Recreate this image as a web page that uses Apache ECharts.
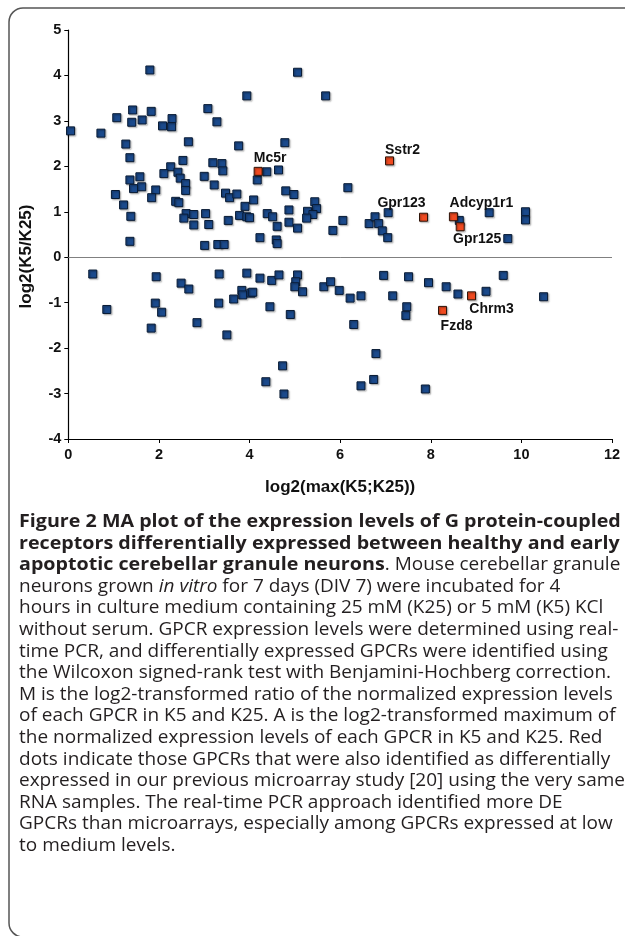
<!DOCTYPE html>
<html>
<head>
<meta charset="utf-8">
<script src="https://cdn.jsdelivr.net/npm/echarts@6/dist/echarts.min.js"></script>
<style>
html,body{margin:0;padding:0;background:#fff;}
#chart{width:625px;height:936px;}
</style>
</head>
<body>
<div id="chart"></div>
<script>
// A values (log2 max) and M values (log2 ratio) for non-highlighted GPCRs
const blueA = [1.80,0.05,0.72,1.07,1.42,1.40,1.63,1.83,2.08,2.29,2.28,2.65,1.27,1.36,2.26,2.53,2.11,2.42,2.47,1.58,1.36,1.44,1.62,1.93,2.59,2.59,1.04,1.22,1.84,2.37,2.44,1.38,2.60,2.55,2.77,2.77,3.03,3.10,1.36,3.01,3.30,3.44,3.00,3.22,3.19,3.39,3.41,3.08,3.28,
  5.06,3.94,5.68,3.76,4.78,4.38,4.64,4.17,6.17,3.47,3.56,3.72,4.09,4.80,4.98,3.90,5.44,5.48,5.28,5.40,5.26,3.53,3.78,3.94,4.00,4.39,4.51,4.61,4.87,4.87,5.06,4.23,4.59,4.61,6.06,5.84,6.64,6.77,6.85,6.93,7.05,7.06,8.63,9.29,10.09,10.09,9.70,
  0.54,0.85,1.94,1.92,2.06,1.83,2.49,2.66,2.84,3.33,3.94,4.23,4.49,4.65,5.06,5.02,5.00,5.17,3.83,3.85,4.03,4.07,3.65,3.32,4.45,4.90,3.50,5.64,5.79,5.98,6.22,6.46,6.30,6.96,7.16,7.51,7.47,7.45,6.79,6.74,6.46,4.73,4.36,4.76,7.95,8.34,8.60,9.22,9.60,10.49,7.88];
const blueM = [4.12,2.78,2.73,3.07,3.24,2.97,3.02,3.21,2.89,3.05,2.87,2.54,2.49,2.19,1.99,2.13,1.84,1.87,1.74,1.77,1.70,1.51,1.55,1.48,1.62,1.47,1.38,1.15,1.31,1.23,1.20,0.90,0.96,0.86,0.94,0.71,0.96,0.72,0.35,0.26,0.28,0.28,1.78,1.59,2.08,2.06,1.90,3.27,2.98,
  4.07,3.55,3.55,2.45,2.52,1.88,1.92,1.70,1.53,1.41,1.31,1.39,1.26,1.46,1.38,1.12,1.22,1.07,1.01,0.94,0.86,0.81,0.92,0.89,0.87,0.96,0.89,0.68,1.04,0.77,0.64,0.43,0.38,0.30,0.81,0.59,0.74,0.89,0.74,0.58,0.43,0.98,0.81,0.98,1.00,0.82,0.41,
  -0.37,-1.15,-0.43,-1.01,-1.21,-1.56,-0.57,-0.70,-1.44,-0.37,-0.35,-0.46,-0.51,-0.39,-0.39,-0.54,-0.65,-0.76,-0.73,-0.83,-0.79,-0.77,-0.92,-1.01,-1.09,-1.26,-1.71,-0.65,-0.54,-0.73,-0.90,-0.85,-1.48,-0.40,-0.85,-0.43,-1.09,-1.28,-2.12,-2.69,-2.83,-2.39,-2.74,-3.01,-0.56,-0.65,-0.81,-0.75,-0.40,-0.87,-2.90];

// GPCRs also found in the previous microarray study
const redNames = ['Mc5r','Sstr2','Gpr123','Adcyp1r1','Gpr125','Chrm3','Fzd8'];
const redA = [4.19,7.09,7.84,8.50,8.65,8.90,8.26];
const redM = [1.89,2.12,0.88,0.89,0.67,-0.85,-1.17];

const xTicks = [0,2,4,6,8,10,12];
const yTicks = [-4,-3,-2,-1,0,1,2,3,4,5];

const xName = 'log2(max(K5;K25))';
const yName = 'log2(K5/K25)';

// label placement (style only)
const labelOffset = {
  'Mc5r':[12,-13], 'Sstr2':[13,-11], 'Gpr123':[-22,-14], 'Adcyp1r1':[28,-14],
  'Gpr125':[17,12], 'Chrm3':[20,13], 'Fzd8':[14,16]
};

const blueData = blueA.map((a,i)=>[a, blueM[i]]);
const redData = redA.map((a,i)=>({
  name: redNames[i], value:[a, redM[i]],
  label:{show:true, position:'inside', offset: labelOffset[redNames[i]], formatter: redNames[i]}
}));

const captionLines = [
  '{b|Figure 2 MA plot of the expression levels of G protein-coupled}',
  '{b|receptors differentially expressed between healthy and early}',
  '{b|apoptotic cerebellar granule neurons}{r|. Mouse cerebellar granule}',
  '{r|neurons grown }{i|in vitro}{r| for 7 days (DIV 7) were incubated for 4}',
  '{r|hours in culture medium containing 25 mM (K25) or 5 mM (K5) KCl}',
  '{r|without serum. GPCR expression levels were determined using real-}',
  '{r|time PCR, and differentially expressed GPCRs were identified using}',
  '{r|the Wilcoxon signed-rank test with Benjamini-Hochberg correction.}',
  '{r|M is the log2-transformed ratio of the normalized expression levels}',
  '{r|of each GPCR in K5 and K25. A is the log2-transformed maximum of}',
  '{r|the normalized expression levels of each GPCR in K5 and K25. Red}',
  '{r|dots indicate those GPCRs that were also identified as differentially}',
  '{r|expressed in our previous microarray study [20] using the very same}',
  '{r|RNA samples. The real-time PCR approach identified more DE}',
  '{r|GPCRs than microarrays, especially among GPCRs expressed at low}',
  '{r|to medium levels.}'
];

const capFont = 'Open Sans';
const capSize = 17.3;
const capBoldSize = 17.9;
const capScaleX = 1.10;
const capColor = '#231f20';
const graphics = [{
  type:'rect', x:9, y:8, z:-1, silent:true,
  shape:{x:0,y:0,width:650,height:929,r:14},
  style:{fill:'none', stroke:'#555', lineWidth:1.5}
},{
  type:'text', x:26, y:256.5, rotation:Math.PI/2, silent:true,
  style:{text:yName, fontFamily:'Liberation Sans', fontWeight:'bold', fontSize:17,
    fill:'#111', align:'center', verticalAlign:'middle'}
}];
captionLines.forEach((t,i)=>{
  graphics.push({
    type:'text', x:19, y: 522 + i*21.6, scaleX:capScaleX, silent:true,
    style:{
      text:t, verticalAlign:'middle', align:'left',
      rich:{
        b:{fontFamily:capFont, fontSize:capBoldSize, fontWeight:'bold', fill:capColor},
        r:{fontFamily:capFont, fontSize:capSize, fill:capColor},
        i:{fontFamily:capFont, fontSize:capSize, fontStyle:'italic', fill:capColor}
      }
    }
  });
});

const chart = echarts.init(document.getElementById('chart'), null, {renderer:'canvas'});
const axisFont = {fontFamily:'Liberation Sans', fontWeight:'bold', fontSize:14.5, color:'#111'};
chart.setOption({
  animation:false,
  backgroundColor:'#fff',
  grid:{left:68.3, right:13, top:30, bottom:497},
  xAxis:{
    type:'value', min:xTicks[0], max:xTicks[xTicks.length-1], interval:2,
    name:xName, nameLocation:'middle', nameGap:40,
    nameTextStyle:{fontFamily:'Liberation Sans', fontWeight:'bold', fontSize:17, color:'#111'},
    axisLine:{onZero:false, lineStyle:{color:'#000', width:1.2}},
    axisTick:{show:true, length:4, lineStyle:{color:'#000'}},
    axisLabel:Object.assign({margin:8}, axisFont),
    splitLine:{show:false}
  },
  yAxis:{
    type:'value', min:yTicks[0], max:yTicks[yTicks.length-1], interval:1,
    axisLine:{show:true, onZero:false, lineStyle:{color:'#000', width:1.2}},
    axisTick:{show:true, length:4, lineStyle:{color:'#000'}},
    axisLabel:Object.assign({margin:7}, axisFont),
    splitLine:{show:false}
  },
  graphic: graphics,
  series:[
    {
      type:'scatter', symbol:'rect', symbolSize:8, data:blueData, z:3,
      itemStyle:{color:'#1b4a8c', borderColor:'#081a33', borderWidth:1,
        shadowColor:'rgba(0,0,0,0.35)', shadowBlur:1.5, shadowOffsetX:1.2, shadowOffsetY:1.2, opacity:1},
      markLine:{
        silent:true, symbol:['none','none'], label:{show:false},
        lineStyle:{color:'#808080', width:1, type:'solid'},
        data:[{yAxis:0}]
      }
    },
    {
      type:'scatter', symbol:'rect', symbolSize:8, data:redData, z:4,
      itemStyle:{color:'#f04a20', borderColor:'#2a1208', borderWidth:1,
        shadowColor:'rgba(0,0,0,0.35)', shadowBlur:1.5, shadowOffsetX:1.2, shadowOffsetY:1.2, opacity:1},
      label:{fontFamily:'Liberation Sans', fontWeight:'bold', fontSize:14, color:'#111'}
    }
  ]
});
</script>
</body>
</html>
